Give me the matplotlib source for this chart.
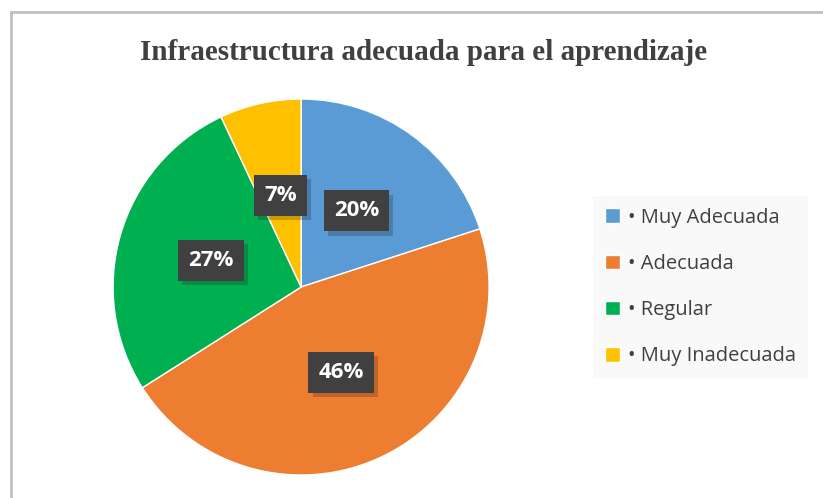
import matplotlib.pyplot as plt
import matplotlib.patheffects as pe
from matplotlib.lines import Line2D

categorias = ["• Muy Adecuada", "• Adecuada", "• Regular", "• Muy Inadecuada"]
porcentajes = [20, 46, 27, 7]
colores = ["#5b9bd5", "#ed7d31", "#00b050", "#ffc000"]

fig = plt.figure(figsize=(8.23, 4.98), dpi=100)
fig.patch.set_facecolor("white")

# marco gris (solo arriba e izquierda)
fig.add_artist(Line2D([10.5 / 823, 1], [1 - 12.5 / 498] * 2, color="#c0c0c0", lw=2))
fig.add_artist(Line2D([10.5 / 823] * 2, [0, 1 - 12.5 / 498], color="#c0c0c0", lw=2))

fig.text(424 / 823, 1 - 52 / 498, "Infraestructura adecuada para el aprendizaje",
         ha="center", va="center", fontsize=21, fontweight="bold",
         family="Liberation Serif", color="#404040")

ax = fig.add_axes([0.1374, 0.0462, 0.4569, 0.755])
wedges, textos, autotextos = ax.pie(
    porcentajes, colors=colores, startangle=90, counterclock=False,
    autopct="%d%%", pctdistance=0.5, frame=False,
    wedgeprops=dict(edgecolor="white", linewidth=1.0))
ax.set_xlim(-1, 1)
ax.set_ylim(-1, 1)
ax.set_aspect("equal")
ax.axis("off")

for t in autotextos:
    t.set_color("white")
    t.set_fontsize(16)
    t.set_fontweight("bold")
    t.set_family("Open Sans")
    t.set_bbox(dict(boxstyle="square,pad=0.45", facecolor="#404040",
                    edgecolor="none",
                    path_effects=[pe.SimplePatchShadow(offset=(3, -3), alpha=0.22),
                                  pe.Normal()]))

leg = fig.legend(wedges, categorias, loc="center left",
                 bbox_to_anchor=(593 / 823, 1 - 287 / 498),
                 frameon=True, fancybox=False,
                 prop=dict(family="Open Sans", size=14.5),
                 handlelength=0.75, handleheight=0.75, handletextpad=0.4,
                 labelspacing=1.3, borderpad=0.6, borderaxespad=0,
                 labelcolor="#404040")
leg.get_frame().set_facecolor("#f8f8f8")
leg.get_frame().set_edgecolor("none")

fig.savefig("out.png", dpi=100)
